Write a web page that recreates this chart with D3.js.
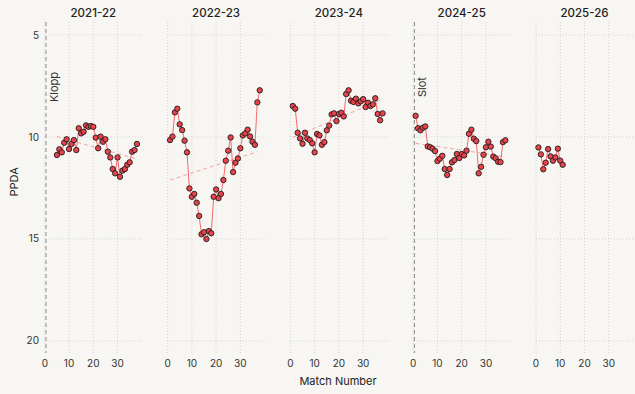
<!DOCTYPE html>
<html>
<head>
<meta charset="utf-8">
<script src="https://cdn.jsdelivr.net/npm/d3@7"></script>
<style>
  body { margin: 0; background: #f7f6f2; }
  svg { display: block; font-family: Inter, "Noto Sans", sans-serif; }
</style>
</head>
<body>
<div id="viz"></div>
<script>
// ---- data ----
var seasons = ["2021-22", "2022-23", "2023-24", "2024-25", "2025-26"];
var firstMatch = [5, 1, 1, 1, 1];

var ppda2122 = [10.88, 10.6, 10.75, 10.28, 10.11, 10.59, 10.34, 10.15, 10.64, 9.57, 9.82, 9.74, 9.43, 9.5, 9.46, 9.5, 10.03,
  10.55, 9.98, 10.23, 10.11, 10.72, 11.0, 11.57, 11.78, 11.0, 11.95, 11.65, 11.57, 11.36, 11.24, 10.72, 10.64, 10.34];
var ppda2223 = [10.15, 9.98, 8.79, 8.61, 9.38, 9.66, 10.18, 10.75, 12.52, 12.93, 12.79, 13.22, 13.87, 14.77, 14.67, 15.0,
  14.61, 14.72, 12.93, 12.57, 13.0, 12.79, 12.11, 11.16, 10.67, 10.02, 11.72, 11.26, 11.05, 10.55, 9.92, 9.82, 9.64, 9.97,
  10.23, 10.38, 8.3, 7.71];
var ppda2324 = [8.48, 8.61, 9.79, 10.07, 10.33, 9.79, 10.07, 10.15, 10.31, 10.75, 9.85, 9.92, 10.38, 10.25, 9.67, 9.44,
  8.89, 8.84, 9.22, 8.87, 8.81, 8.99, 7.89, 7.71, 8.22, 8.28, 8.12, 8.35, 8.25, 8.14, 8.53, 8.32, 8.48, 8.4, 8.1, 8.87,
  9.18, 8.84];
var ppda2425 = [8.96, 9.57, 9.67, 9.54, 9.48, 10.46, 10.5, 10.57, 10.69, 11.18, 11.06, 10.92, 11.57, 11.86, 11.57, 11.24,
  11.13, 10.83, 11.03, 10.83, 10.9, 10.67, 9.84, 9.64, 10.08, 10.2, 11.78, 11.46, 10.87, 10.5, 10.23, 10.47, 10.96, 11.04,
  11.21, 11.23, 10.25, 10.16];
var ppda2526 = [10.51, 10.85, 11.58, 11.26, 10.59, 10.95, 11.16, 11.0, 10.57, 11.16, 11.36];
var seriesValues = [ppda2122, ppda2223, ppda2324, ppda2425, ppda2526];

// dashed trend lines: [match, ppda] start and end, null where none is drawn
var trendStart = [[5, 9.98], [1, 12.11], [1, 10.02], [1, 10.31], null];
var trendEnd = [[38, 11.08], [37, 10.72], [38, 8.15], [38, 10.96], null];

// manager arrivals
var managers = ["Klopp", null, null, "Slot", null];
var managerMatch = 0.5;
var managerLabelY = 7.55;

var xTicks = [0, 10, 20, 30];
var yTicks = [5, 10, 15, 20];

// ---- layout ----
var width = 635, height = 394;
var panelLeft = 44.8, panelStep = 122.8, panelWidth = 97;
var panelTop = 22, panelBottom = 353;

var x = d3.scaleLinear().domain([0, 40]).range([0, panelWidth]);
var y = d3.scaleLinear().domain([4.36, 20.59]).range([panelTop, panelBottom]);

var svg = d3.select("#viz").append("svg")
  .attr("width", width)
  .attr("height", height);

svg.append("rect").attr("width", width).attr("height", height).attr("fill", "#f7f6f2");

var line = d3.line().x(function(d) { return x(d[0]); }).y(function(d) { return y(d[1]); });

seasons.forEach(function(season, k) {
  var g = svg.append("g").attr("transform", "translate(" + (panelLeft + k * panelStep) + ",0)");
  var pts = seriesValues[k].map(function(v, i) { return [firstMatch[k] + i, v]; });

  // grid
  g.selectAll(".hg").data(yTicks).enter().append("line")
    .attr("x1", 0).attr("x2", panelWidth)
    .attr("y1", function(d) { return y(d); }).attr("y2", function(d) { return y(d); })
    .attr("stroke", "#c9c9c4").attr("stroke-width", 0.8).attr("stroke-dasharray", "1,2");
  g.selectAll(".vg").data(xTicks).enter().append("line")
    .attr("x1", function(d) { return x(d); }).attr("x2", function(d) { return x(d); })
    .attr("y1", panelTop).attr("y2", panelBottom)
    .attr("stroke", "#c9c9c4").attr("stroke-width", 0.8).attr("stroke-dasharray", "1,2");

  // x tick labels
  g.selectAll(".xt").data(xTicks).enter().append("text")
    .attr("x", function(d) { return x(d); })
    .attr("y", 367)
    .attr("text-anchor", "middle")
    .attr("font-size", "10px")
    .attr("fill", "#333")
    .text(function(d) { return d; });

  // title
  g.append("text")
    .attr("x", panelWidth / 2)
    .attr("y", 17)
    .attr("text-anchor", "middle")
    .attr("font-size", "11.5px")
    .attr("font-weight", 500)
    .attr("fill", "#222")
    .text(season);

  // manager marker
  if (managers[k]) {
    g.append("line")
      .attr("x1", x(managerMatch)).attr("x2", x(managerMatch))
      .attr("y1", panelTop).attr("y2", panelBottom)
      .attr("stroke", "#8a8a8a").attr("stroke-width", 1)
      .attr("stroke-dasharray", "4,3");
    g.append("text")
      .attr("transform", "translate(" + (x(managerMatch) + 12) + "," + y(managerLabelY) + ") rotate(-90)")
      .attr("text-anchor", "middle")
      .attr("font-size", "11px")
      .attr("fill", "#333")
      .text(managers[k]);
  }

  // trend
  if (trendStart[k]) {
    g.append("path")
      .attr("d", line([trendStart[k], trendEnd[k]]))
      .attr("fill", "none")
      .attr("stroke", "#f4a3a3")
      .attr("stroke-width", 1)
      .attr("stroke-dasharray", "4,3");
  }

  // series line
  g.append("path")
    .attr("d", line(pts))
    .attr("fill", "none")
    .attr("stroke", "#f26b6e")
    .attr("stroke-width", 1);

  g.selectAll("circle").data(pts).enter().append("circle")
    .attr("cx", function(d) { return x(d[0]); })
    .attr("cy", function(d) { return y(d[1]); })
    .attr("r", 2.7)
    .attr("fill", "#e8424a")
    .attr("stroke", "#1d1d1d")
    .attr("stroke-width", 0.9);
});

// y tick labels (first panel only)
svg.selectAll(".yt").data(yTicks).enter().append("text")
  .attr("x", 39)
  .attr("y", function(d) { return y(d) + 3.5; })
  .attr("text-anchor", "end")
  .attr("font-size", "10px")
  .attr("fill", "#333")
  .text(function(d) { return d; });

svg.append("text")
  .attr("transform", "translate(18," + y(12.2) + ") rotate(-90)")
  .attr("text-anchor", "middle")
  .attr("font-size", "11px")
  .attr("fill", "#222")
  .text("PPDA");

svg.append("text")
  .attr("x", 338)
  .attr("y", 385)
  .attr("text-anchor", "middle")
  .attr("font-size", "11px")
  .attr("fill", "#222")
  .text("Match Number");
</script>
</body>
</html>
